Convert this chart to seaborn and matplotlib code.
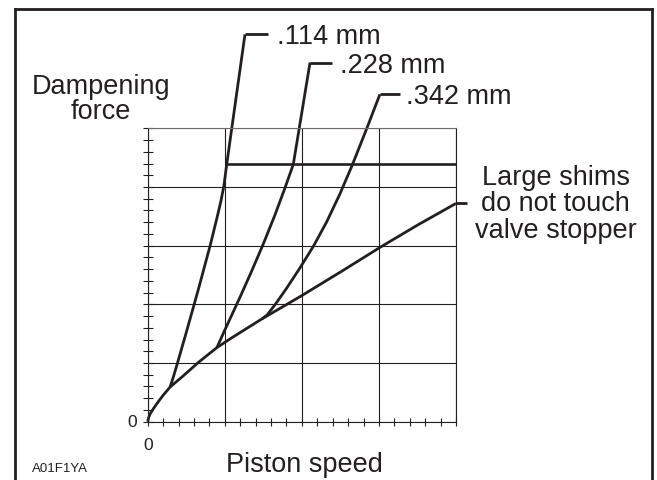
import matplotlib
matplotlib.use("Agg")
import matplotlib.pyplot as plt
from matplotlib.lines import Line2D
from matplotlib.ticker import MultipleLocator, NullFormatter
import numpy as np
import pandas as pd
import seaborn as sns

# Piston speed (4 grid divisions) vs dampening force (5 grid divisions)
base_speed = [0.0, 0.01, 0.03, 0.073, 0.12, 0.2, 0.29, 0.46, 0.657, 0.895, 1.067, 1.2,
              1.48, 1.975, 2.5, 3.013, 3.5, 4.0]
base_force = [0.0, 0.06, 0.13, 0.22, 0.31, 0.45, 0.59, 0.78, 1.01, 1.26, 1.41, 1.52,
              1.75, 2.13, 2.55, 2.97, 3.35, 3.72]

shim114_speed = [0.29, 0.33, 0.38, 0.50, 0.65, 0.81, 0.90, 0.95, 0.99, 1.025, 1.262]
shim114_force = [0.59, 0.75, 0.97, 1.52, 2.22, 3.0, 3.48, 3.76, 4.03, 4.385, 6.6]

shim228_speed = [0.90, 1.0, 1.197, 1.35, 1.5, 1.65, 1.78, 1.889, 2.106]
shim228_force = [1.27, 1.56, 2.12, 2.57, 3.03, 3.52, 3.98, 4.385, 6.12]

shim342_speed = [1.48, 1.55, 1.65, 1.80, 1.975, 2.15, 2.32, 2.49, 2.65, 2.84, 3.013]
shim342_force = [1.75, 1.82, 1.99, 2.27, 2.62, 2.99, 3.40, 3.87, 4.36, 4.99, 5.58]

stopper_speed = [1.025, 4.0]
stopper_force = 4.385

shim_labels = [".114 mm", ".228 mm", ".342 mm"]
base_label = "Large shims\ndo not touch\nvalve stopper"

ink = "#231f20"
W, H = 657, 481

sns.set_theme(style="white")
plt.rcParams["font.family"] = ["Liberation Sans", "DejaVu Sans"]
plt.rcParams["text.color"] = ink

fig = plt.figure(figsize=(W / 100, H / 100), dpi=100)
fig.patch.set_facecolor("white")

# axes box in pixels: left 147.7, right 456, top 129.3, bottom 422.7
ax = fig.add_axes([147.7 / W, (H - 422.7) / H, 308.3 / W, 293.4 / H])
ax.set_facecolor("white")

frames = []
for name, xs, ys in [("base", base_speed, base_force),
                     ("s114", shim114_speed, shim114_force),
                     ("s228", shim228_speed, shim228_force),
                     ("s342", shim342_speed, shim342_force)]:
    frames.append(pd.DataFrame({"speed": xs, "force": ys, "curve": name}))
df = pd.concat(frames, ignore_index=True)

sns.lineplot(data=df, x="speed", y="force", units="curve", estimator=None,
             sort=False, color=ink, lw=2.0, ax=ax, legend=False)
sns.lineplot(x=stopper_speed, y=[stopper_force] * len(stopper_speed),
             color=ink, lw=1.9, ax=ax, legend=False)
for ln in ax.lines:
    ln.set_clip_on(False)
    ln.set_solid_joinstyle("round")
    ln.set_solid_capstyle("butt")

ax.set_xlim(0, 4)
ax.set_ylim(0, 5)
ax.set_xticks(range(5))
ax.set_yticks(range(6))
ax.xaxis.set_minor_locator(MultipleLocator(0.2))
ax.yaxis.set_minor_locator(MultipleLocator(0.2))
ax.xaxis.set_major_formatter(NullFormatter())
ax.yaxis.set_major_formatter(NullFormatter())
ax.tick_params(axis="x", which="both", direction="inout", length=5.5, width=0.8,
               color=ink, bottom=True)
ax.tick_params(axis="y", which="both", direction="inout", length=6.5, width=0.8,
               color=ink, left=True)
ax.grid(True, which="major", color=ink, lw=0.8)
for sp in ax.spines.values():
    sp.set_color(ink)
    sp.set_linewidth(0.8)
ax.spines["top"].set_color("#6e6e6e")

fs = 19.5
ax.annotate("0", xy=(0, 0), xytext=(-11, 0), textcoords="offset pixels",
            ha="right", va="center", fontsize=12.5, color=ink)
ax.annotate("0", xy=(0, 0), xytext=(0, -22.5), textcoords="offset pixels",
            ha="center", va="center", fontsize=12.5, color=ink)

ax.set_xlabel("Piston speed", fontsize=fs, va="baseline", color=ink)
ax.xaxis.set_label_coords(0.51, -0.167)
ax.set_ylabel("Dampening\nforce", fontsize=fs, rotation=0, ha="center",
              va="center", linespacing=0.95, color=ink)
ax.yaxis.set_label_coords(-0.1515, 1.1)


def leader(xe, ye, length_px):
    p = ax.transData.transform((xe, ye))
    x2 = ax.transData.inverted().transform((p[0] + length_px, p[1]))[0]
    ax.plot([xe, x2], [ye, ye], color=ink, lw=2.0, clip_on=False,
            solid_capstyle="butt")


# callouts for each shim stack
for xs, ys, lab, lead, gap in [(shim114_speed, shim114_force, shim_labels[0], 23.3, 31.7),
                               (shim228_speed, shim228_force, shim_labels[1], 21.7, 30.0),
                               (shim342_speed, shim342_force, shim_labels[2], 20.0, 26.3)]:
    leader(xs[-1], ys[-1], lead)
    ax.annotate(lab, xy=(xs[-1], ys[-1]), xytext=(gap, -9.0),
                textcoords="offset pixels", ha="left", va="baseline",
                fontsize=fs, color=ink, annotation_clip=False)

leader(base_speed[-1], base_force[-1], 10.7)
ax.annotate(base_label, xy=(base_speed[-1], base_force[-1]), xytext=(99.5, 0),
            textcoords="offset pixels", ha="center", va="center",
            multialignment="center", linespacing=1.03, fontsize=fs, color=ink,
            annotation_clip=False)

fig.text(31.7 / W, 1 - 471.7 / H, "A01F1YA", fontsize=9.5, ha="left",
         va="baseline", color=ink)

# open-bottom border around the figure
fx0, fx1, fy = 15 / W, 652 / W, 1 - 10 / H
for xs, ys in [([fx0, fx0], [0, fy]), ([fx0, fx1], [fy, fy]), ([fx1, fx1], [fy, 0])]:
    fig.add_artist(Line2D(xs, ys, transform=fig.transFigure, color=ink, lw=2.0,
                          solid_capstyle="projecting", solid_joinstyle="miter"))

fig.savefig("out.png", dpi=100, facecolor="white")
